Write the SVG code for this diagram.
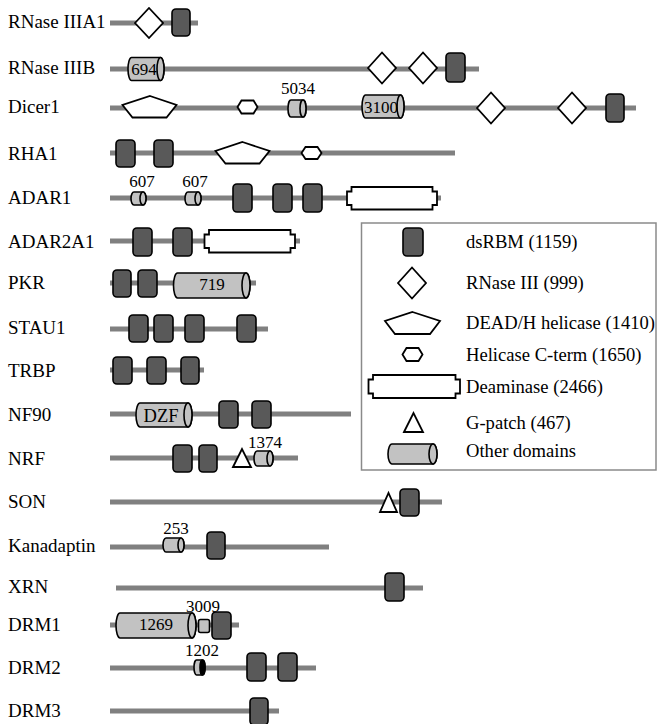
<svg xmlns="http://www.w3.org/2000/svg" width="657" height="724" viewBox="0 0 657 724">
<style>
text{font-family:"Liberation Serif","Times New Roman",serif;fill:#000}
.lbl{font-size:19px}
.num{font-size:17px;text-anchor:middle}
.leg{font-size:18.6px}
.ln{stroke:#808080;stroke-width:5;fill:none}
.ds{fill:#595959;stroke:#000;stroke-width:1.6}
.cy{fill:#c2c2c2;stroke:#000;stroke-width:1.6}
.wh{fill:#fff;stroke:#000;stroke-width:1.8;stroke-linejoin:miter}
.box{fill:none;stroke:#8a8a8a;stroke-width:1.5}
</style>
<g id="connectors">
<line class="ln" x1="110" y1="23" x2="198" y2="23"/>
<line class="ln" x1="110" y1="69" x2="479" y2="69"/>
<line class="ln" x1="110" y1="108" x2="636" y2="108"/>
<line class="ln" x1="110" y1="153" x2="455" y2="153"/>
<line class="ln" x1="110" y1="198" x2="441" y2="198"/>
<line class="ln" x1="110" y1="241" x2="300" y2="241"/>
<line class="ln" x1="110" y1="283" x2="256" y2="283"/>
<line class="ln" x1="110" y1="329" x2="268" y2="329"/>
<line class="ln" x1="110" y1="370" x2="204" y2="370"/>
<line class="ln" x1="110" y1="414" x2="351" y2="414"/>
<line class="ln" x1="110" y1="458" x2="298" y2="458"/>
<line class="ln" x1="110" y1="502" x2="442" y2="502"/>
<line class="ln" x1="110" y1="547" x2="329" y2="547"/>
<line class="ln" x1="116" y1="588" x2="423" y2="588"/>
<line class="ln" x1="110" y1="625" x2="239" y2="625"/>
<line class="ln" x1="110" y1="668" x2="316" y2="668"/>
<line class="ln" x1="110" y1="711" x2="279" y2="711"/>
</g>
<g id="RNaseIIIA1">
<text class="lbl" x="8" y="28">RNase IIIA1</text>
<polygon class="wh" points="135,23 149,8 163,23 149,38"/>
<rect class="ds" x="172" y="9" width="18" height="27" rx="4"/>
</g>
<g id="RNaseIIIB">
<text class="lbl" x="8" y="74">RNase IIIB</text>
<path class="cy" d="M131.5,57.5 H160.5 A3.5,11.5 0 0 1 160.5,80.5 H131.5 A3.5,11.5 0 0 1 131.5,57.5 Z"/>
<ellipse class="cy" cx="160.5" cy="69" rx="3.5" ry="11.5"/>
<text class="num" x="144" y="75">694</text>
<polygon class="wh" points="368,68 382,52.5 396,68 382,83.5"/>
<polygon class="wh" points="409,68 423,52.5 437,68 423,83.5"/>
<rect class="ds" x="446" y="53" width="19" height="29" rx="4"/>
</g>
<g id="Dicer1">
<text class="lbl" x="8" y="113">Dicer1</text>
<polygon class="wh" points="150,96 176.5,105 166.5,117.5 132.5,117.5 122.5,105"/>
<polygon class="wh" points="237.5,107 241.5,100.5 253.5,100.5 257.5,107 253.5,113.5 241.5,113.5"/>
<path class="cy" d="M291,100 H303 A3,8.5 0 0 1 303,117 H291 A3,8.5 0 0 1 291,100 Z"/>
<ellipse class="cy" cx="303" cy="108.5" rx="3" ry="8.5"/>
<text class="num" x="298" y="94">5034</text>
<path class="cy" d="M365.5,95 H400.5 A3.5,11.5 0 0 1 400.5,118 H365.5 A3.5,11.5 0 0 1 365.5,95 Z"/>
<ellipse class="cy" cx="400.5" cy="106.5" rx="3.5" ry="11.5"/>
<text class="num" x="381" y="113">3100</text>
<polygon class="wh" points="477,108 491,92.5 505,108 491,123.5"/>
<polygon class="wh" points="558,108 572,92.5 586,108 572,123.5"/>
<rect class="ds" x="606" y="94" width="18" height="28" rx="4"/>
</g>
<g id="RHA1">
<text class="lbl" x="8" y="160">RHA1</text>
<rect class="ds" x="116" y="140" width="19" height="27" rx="4"/>
<rect class="ds" x="154" y="140" width="19" height="27" rx="4"/>
<polygon class="wh" points="242.5,142 269.5,151 259.5,163.5 225.5,163.5 215.5,151"/>
<polygon class="wh" points="301.5,153 305.5,147 317.5,147 321.5,153 317.5,159 305.5,159"/>
</g>
<g id="ADAR1">
<text class="lbl" x="8" y="204">ADAR1</text>
<path class="cy" d="M134,192 H143 A3,6.5 0 0 1 143,205 H134 A3,6.5 0 0 1 134,192 Z"/>
<ellipse class="cy" cx="143" cy="198.5" rx="3" ry="6.5"/>
<text class="num" x="142" y="187">607</text>
<path class="cy" d="M188,192 H198 A3,6.5 0 0 1 198,205 H188 A3,6.5 0 0 1 188,192 Z"/>
<ellipse class="cy" cx="198" cy="198.5" rx="3" ry="6.5"/>
<text class="num" x="195" y="187">607</text>
<rect class="ds" x="233" y="184" width="19" height="28" rx="4"/>
<rect class="ds" x="273" y="184" width="19" height="28" rx="4"/>
<rect class="ds" x="303" y="184" width="19" height="28" rx="4"/>
<path class="wh" d="M351.5,187 H432.5 V191.5 H437 V205 H432.5 V209.5 H351.5 V205 H347 V191.5 H351.5 Z"/>
</g>
<g id="ADAR2A1">
<text class="lbl" x="8" y="248">ADAR2A1</text>
<rect class="ds" x="133" y="228" width="19" height="28" rx="4"/>
<rect class="ds" x="173" y="228" width="19" height="28" rx="4"/>
<path class="wh" d="M209,230 H290.5 V234.5 H295 V248 H290.5 V252.5 H209 V248 H204.5 V234.5 H209 Z"/>
</g>
<g id="PKR">
<text class="lbl" x="8" y="289">PKR</text>
<rect class="ds" x="113" y="270" width="18" height="27" rx="4"/>
<rect class="ds" x="138" y="270" width="19" height="27" rx="4"/>
<path class="cy" d="M177.5,273 H246 A4,12.5 0 0 1 246,298 H177.5 A4,12.5 0 0 1 177.5,273 Z"/>
<ellipse class="cy" cx="246" cy="285.5" rx="4" ry="12.5"/>
<text class="num" x="212" y="290">719</text>
</g>
<g id="STAU1">
<text class="lbl" x="8" y="334">STAU1</text>
<rect class="ds" x="129" y="315" width="19" height="27" rx="4"/>
<rect class="ds" x="154" y="315" width="19" height="27" rx="4"/>
<rect class="ds" x="185" y="315" width="19" height="27" rx="4"/>
<rect class="ds" x="237" y="315" width="19" height="27" rx="4"/>
</g>
<g id="TRBP">
<text class="lbl" x="8" y="377">TRBP</text>
<rect class="ds" x="113" y="357" width="19" height="27" rx="4"/>
<rect class="ds" x="147" y="357" width="19" height="27" rx="4"/>
<rect class="ds" x="181" y="357" width="18" height="27" rx="4"/>
</g>
<g id="NF90">
<text class="lbl" x="8" y="421">NF90</text>
<path class="cy" d="M140,403 H188 A4,12 0 0 1 188,427 H140 A4,12 0 0 1 140,403 Z"/>
<ellipse class="cy" cx="188" cy="415" rx="4" ry="12"/>
<text class="num" x="161" y="422" style="font-size:18.5px">DZF</text>
<rect class="ds" x="219" y="401" width="19" height="27" rx="4"/>
<rect class="ds" x="252" y="401" width="19" height="27" rx="4"/>
</g>
<g id="NRF">
<text class="lbl" x="8" y="465">NRF</text>
<rect class="ds" x="173" y="445" width="19" height="27" rx="4"/>
<rect class="ds" x="199" y="445" width="18" height="27" rx="4"/>
<polygon class="wh" points="233,467 242,449 251,467"/>
<path class="cy" d="M257,451 H270 A3,7.5 0 0 1 270,466 H257 A3,7.5 0 0 1 257,451 Z"/>
<ellipse class="cy" cx="270" cy="458.5" rx="3" ry="7.5"/>
<text class="num" x="265" y="448">1374</text>
</g>
<g id="SON">
<text class="lbl" x="8" y="508">SON</text>
<polygon class="wh" points="380,512 388.5,493 397,512"/>
<rect class="ds" x="400" y="489" width="19" height="27" rx="4"/>
</g>
<g id="Kanadaptin">
<text class="lbl" x="8" y="552">Kanadaptin</text>
<path class="cy" d="M166,538 H181 A3,7 0 0 1 181,552 H166 A3,7 0 0 1 166,538 Z"/>
<ellipse class="cy" cx="181" cy="545" rx="3" ry="7"/>
<text class="num" x="176" y="534">253</text>
<rect class="ds" x="207" y="532" width="18" height="27" rx="4"/>
</g>
<g id="XRN">
<text class="lbl" x="8" y="593">XRN</text>
<rect class="ds" x="385" y="573" width="19" height="28" rx="4"/>
</g>
<g id="DRM1">
<text class="lbl" x="8" y="631">DRM1</text>
<path class="cy" d="M120,613 H192 A4,12.5 0 0 1 192,638 H120 A4,12.5 0 0 1 120,613 Z"/>
<ellipse class="cy" cx="192" cy="625.5" rx="4" ry="12.5"/>
<text class="num" x="156" y="630">1269</text>
<rect class="cy" x="198.5" y="619.5" width="11" height="13" rx="2"/>
<text class="num" x="203" y="612">3009</text>
<rect class="ds" x="212" y="612" width="19" height="27" rx="4"/>
</g>
<g id="DRM2">
<text class="lbl" x="8" y="674">DRM2</text>
<path class="cy" d="M196.5,660 H202.5 A2.5,7.5 0 0 1 202.5,675 H196.5 A2.5,7.5 0 0 1 196.5,660 Z"/>
<ellipse class="cy" cx="202.5" cy="667.5" rx="2.5" ry="7.5" style="fill:#000"/>
<text class="num" x="202" y="656">1202</text>
<rect class="ds" x="247" y="653" width="19" height="28" rx="4"/>
<rect class="ds" x="278" y="653" width="19" height="28" rx="4"/>
</g>
<g id="DRM3">
<text class="lbl" x="8" y="717">DRM3</text>
<rect class="ds" x="250" y="698" width="18" height="27" rx="4"/>
</g>
<g id="legend">
<rect class="box" x="361.5" y="223" width="294.5" height="247"/>
<rect class="ds" x="403" y="228" width="20" height="28" rx="4"/>
<text class="leg" x="466" y="248">dsRBM (1159)</text>
<polygon class="wh" points="398,283 412,267.5 426,283 412,298.5"/>
<text class="leg" x="466" y="289">RNase III (999)</text>
<polygon class="wh" points="412.5,312 440,321 430,334 395,334 385,321"/>
<text class="leg" x="466" y="329">DEAD/H helicase (1410)</text>
<polygon class="wh" points="402.5,354.5 406.5,348 418.5,348 422.5,354.5 418.5,361 406.5,361"/>
<text class="leg" x="466" y="361">Helicase C-term (1650)</text>
<path class="wh" d="M373,375 H455.5 V379.5 H460 V393.5 H455.5 V398 H373 V393.5 H368.5 V379.5 H373 Z"/>
<text class="leg" x="466" y="393">Deaminase (2466)</text>
<polygon class="wh" points="404,432 413.5,413 423,432"/>
<text class="leg" x="466" y="429">G-patch (467)</text>
<path class="cy" d="M392,444 H433 A4,10 0 0 1 433,464 H392 A4,10 0 0 1 392,444 Z"/>
<ellipse class="cy" cx="433" cy="454" rx="4" ry="10"/>
<text class="leg" x="466" y="457">Other domains</text>
</g>
</svg>
